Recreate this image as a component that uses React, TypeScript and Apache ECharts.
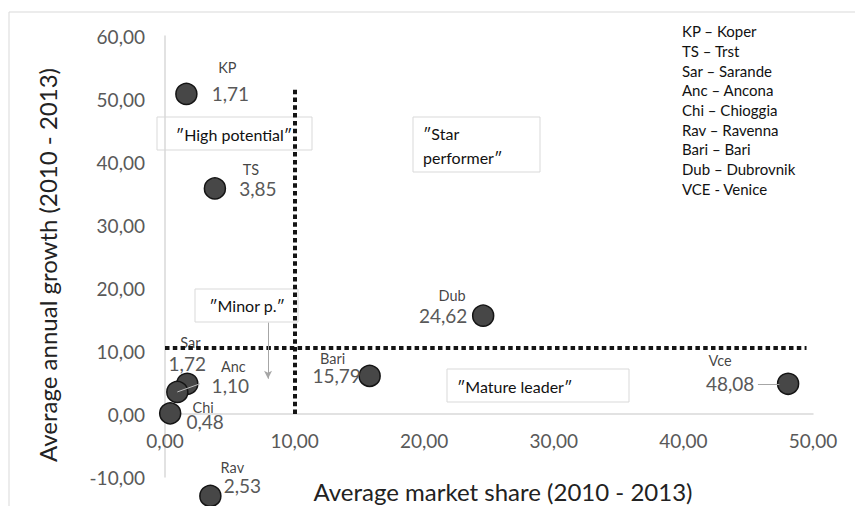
import React, { useEffect, useRef } from "react";
import * as echarts from "echarts";

// ---- data ----
const ports = ["KP", "TS", "Sar", "Anc", "Chi", "Rav", "Bari", "Dub", "Vce"];
const marketShare = [1.65, 3.85, 1.72, 0.95, 0.4, 3.5, 15.79, 24.55, 48.08];
const annualGrowth = [50.8, 35.8, 4.8, 3.5, 0.1, -13.0, 6.05, 15.6, 4.8];
const shareLabels = ["1,71", "3,85", "1,72", "1,10", "0,48", "2,53", "15,79", "24,62", "48,08"];
const legendLines = [
  "KP \u2013 Koper",
  "TS \u2013 Trst",
  "Sar \u2013 Sarande",
  "Anc \u2013 Ancona",
  "Chi \u2013 Chioggia",
  "Rav \u2013 Ravenna",
  "Bari \u2013 Bari",
  "Dub \u2013 Dubrovnik",
  "VCE - Venice",
];
const shareThreshold = 10;
const growthThreshold = 10.5;
const xTicks = { min: 0, max: 50, interval: 10 };
const yTicks = { min: -10, max: 60, interval: 10 };

// ---- layout (offsets of labels relative to point centres) ----
const valueOffsets = [[44, 0], [43, 0], [0, -20], [53, -6], [35, 8], [32, -10], [-33, 0], [-40, 0], [-58, 0]];
const nameOffsets = [[41, -26], [36, -19], [3, -41], [56, -25], [33, -6], [22, -28], [-37, -17], [-31, -20], [-68, -23]];

const FONT = "Lato, 'Open Sans', sans-serif";
const GRID = { left: 165, right: 42, top: 36, bottom: 29 };
const PLOT_H = 506 - GRID.top - GRID.bottom;

export default function App() {
  const ref = useRef<HTMLDivElement>(null);
  useEffect(() => {
    if (!ref.current) return;
    const chart = echarts.init(ref.current, undefined, { renderer: "svg" });
    const fmt = (v: number) => v.toFixed(2).replace(".", ",");
    const dots = { color: "#141414", width: 4, type: [4.5, 3.3] as any, cap: "butt" };
    // move the x axis up so that it crosses the y axis at zero
    const zeroOffset = -(PLOT_H * (0 - yTicks.min)) / (yTicks.max - yTicks.min);
    const option: any = {
      animation: false,
      backgroundColor: "#fff",
      grid: { ...GRID, containLabel: false },
      xAxis: {
        type: "value",
        min: xTicks.min,
        max: xTicks.max,
        interval: xTicks.interval,
        offset: zeroOffset,
        axisLine: { show: true, onZero: false, lineStyle: { color: "#d9d9d9", width: 1.5 } },
        axisTick: { show: false },
        splitLine: { show: false },
        axisLabel: { formatter: fmt, color: "#595959", fontSize: 19, fontFamily: FONT, margin: 17 },
      },
      yAxis: {
        type: "value",
        min: yTicks.min,
        max: yTicks.max,
        interval: yTicks.interval,
        axisLine: { show: true, onZero: false, lineStyle: { color: "#d9d9d9", width: 1.5 } },
        axisTick: { show: false },
        splitLine: { show: false },
        axisLabel: { formatter: fmt, color: "#595959", fontSize: 19, fontFamily: FONT, margin: 20 },
      },
      graphic: [
        { type: "rect", z: 0, shape: { x: 9, y: 12, width: 900, height: 600 }, style: { fill: "none", stroke: "#d9d9d9", lineWidth: 1 } },
        { type: "rect", z: 0, shape: { x: 157, y: 117, width: 155, height: 33 }, style: { fill: "#fff", stroke: "#d9d9d9", lineWidth: 1 } },
        { type: "text", z: 1, x: 234, y: 134, style: { text: "\u2033High potential\u2033", fontSize: 16, fontFamily: FONT, fill: "#111", align: "center", verticalAlign: "middle" } },
        { type: "rect", z: 0, shape: { x: 413, y: 117, width: 127, height: 55 }, style: { fill: "#fff", stroke: "#d9d9d9", lineWidth: 1 } },
        { type: "text", z: 1, x: 423, y: 145, style: { text: "\u2033Star\nperformer\u2033", fontSize: 16, lineHeight: 24, fontFamily: FONT, fill: "#111", align: "left", verticalAlign: "middle" } },
        { type: "rect", z: 0, shape: { x: 195, y: 289, width: 103, height: 33 }, style: { fill: "#fff", stroke: "#d9d9d9", lineWidth: 1 } },
        { type: "text", z: 1, x: 247, y: 305, style: { text: "\u2033Minor p.\u2033", fontSize: 16, fontFamily: FONT, fill: "#111", align: "center", verticalAlign: "middle" } },
        { type: "rect", z: 0, shape: { x: 447, y: 369, width: 182, height: 33 }, style: { fill: "#fff", stroke: "#d9d9d9", lineWidth: 1 } },
        { type: "text", z: 1, x: 457, y: 386, style: { text: "\u2033Mature leader\u2033", fontSize: 16, fontFamily: FONT, fill: "#111", align: "left", verticalAlign: "middle" } },
        { type: "text", z: 1, x: 682, y: 110, style: { text: legendLines.join("\n"), fontSize: 15, lineHeight: 19.7, fontFamily: FONT, fill: "#111", align: "left", verticalAlign: "middle" } },
        { type: "text", z: 1, x: 503, y: 491, style: { text: "Average market share (2010 - 2013)", fontSize: 24, lineHeight: 28, fontFamily: FONT, fill: "#222", align: "center", verticalAlign: "middle" } },
        { type: "text", z: 1, x: 47, y: 265, rotation: Math.PI / 2, style: { text: "Average annual growth (2010 - 2013)", fontSize: 24, fontFamily: FONT, fill: "#222", align: "center", verticalAlign: "middle" } },
      ],
      series: [
        {
          type: "scatter",
          z: 3,
          clip: false,
          symbol: "circle",
          symbolSize: 21,
          itemStyle: { color: "#474747", borderColor: "#141414", borderWidth: 1.5, opacity: 1 },
          data: ports.map((p, i) => ({
            name: p,
            value: [marketShare[i], annualGrowth[i]],
            label: {
              show: true,
              position: "inside",
              offset: valueOffsets[i],
              formatter: shareLabels[i],
              color: "#595959",
              fontSize: 19,
              fontFamily: FONT,
              textBorderWidth: 0,
              align: "center",
              verticalAlign: "middle",
            },
          })),
        },
        {
          type: "scatter",
          z: 4,
          clip: false,
          symbol: "circle",
          symbolSize: 1,
          itemStyle: { color: "rgba(0,0,0,0)" },
          silent: true,
          data: ports.map((p, i) => ({
            name: p,
            value: [marketShare[i], annualGrowth[i]],
            label: {
              show: true,
              position: "inside",
              offset: nameOffsets[i],
              formatter: p,
              color: "#111",
              fontSize: 14.5,
              fontFamily: FONT,
              textBorderWidth: 0,
              align: "center",
              verticalAlign: "middle",
            },
          })),
          markLine: {
            silent: true,
            symbol: "none",
            label: { show: false },
            animation: false,
            data: [
              [{ coord: [shareThreshold, 0], lineStyle: dots }, { coord: [shareThreshold, 52] }],
              [{ coord: [0, growthThreshold], lineStyle: dots }, { coord: [49.5, growthThreshold] }],
              [
                { coord: [7.95, 14.5], symbol: "none", lineStyle: { color: "#a6a6a6", width: 1, type: "solid" } },
                { coord: [7.95, 5.6], symbol: "arrow", symbolSize: [6, 8] },
              ],
              [{ coord: [2.7, 4.8], lineStyle: { color: "#bfbfbf", width: 1, type: "solid" } }, { coord: [0.95, 3.5] }],
              [{ coord: [45.75, 4.8], lineStyle: { color: "#a6a6a6", width: 1, type: "solid" } }, { coord: [47.4, 4.8] }],
            ],
          },
        },
      ],
    };
    chart.setOption(option);
    return () => chart.dispose();
  }, []);
  return <div ref={ref} style={{ position: "fixed", left: 0, top: 0, width: 855, height: 506 }} />;
}
